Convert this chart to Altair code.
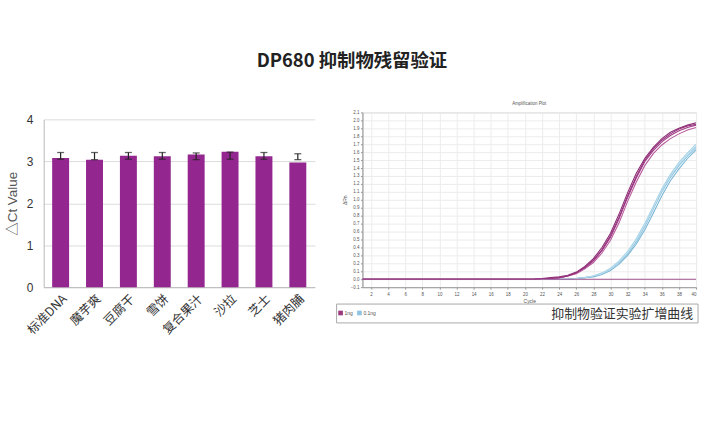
import altair as alt
import pandas as pd

CJK = "Noto Sans CJK SC"
LAT = "Liberation Sans, Noto Sans CJK SC"

title_text = "DP680 抑制物残留验证"

# ---- left panel: delta Ct bars ----
samples = ["标准DNA", "魔芋爽", "豆腐干", "雪饼", "复合果汁", "沙拉", "芝士", "猪肉脯"]
delta_ct = [3.08, 3.04, 3.13, 3.12, 3.16, 3.23, 3.12, 2.97]
err_low = [3.05, 3.04, 3.05, 3.05, 3.04, 3.05, 3.05, 3.04]
err_high = [3.21, 3.21, 3.21, 3.21, 3.20, 3.22, 3.21, 3.18]
bar_ticks = [0, 1, 2, 3, 4]

# ---- right panel: amplification curves ----
cycles = list(range(1, 41))
mag_1 = [0.00, 0.00, 0.00, 0.00, 0.00, 0.00, 0.00, 0.00, 0.00, 0.00,
         0.00, 0.00, 0.00, 0.00, 0.00, 0.00, 0.00, 0.00, 0.00, 0.00,
         0.00, 0.01, 0.01, 0.02, 0.04, 0.08, 0.14, 0.23, 0.36, 0.53,
         0.76, 1.03, 1.27, 1.48, 1.62, 1.73, 1.81, 1.87, 1.91, 1.94]
mag_2 = [0.00, 0.00, 0.00, 0.00, 0.00, 0.00, 0.00, 0.00, 0.00, 0.00,
         0.00, 0.00, 0.00, 0.00, 0.00, 0.00, 0.00, 0.00, 0.00, 0.00,
         0.00, 0.01, 0.02, 0.03, 0.05, 0.09, 0.16, 0.26, 0.40, 0.58,
         0.82, 1.09, 1.33, 1.52, 1.66, 1.77, 1.85, 1.90, 1.94, 1.97]
mag_3 = [0.00, 0.00, 0.00, 0.00, 0.00, 0.00, 0.00, 0.00, 0.00, 0.00,
         0.00, 0.00, 0.00, 0.00, 0.00, 0.00, 0.00, 0.00, 0.00, 0.00,
         0.00, 0.01, 0.01, 0.02, 0.04, 0.07, 0.13, 0.21, 0.33, 0.49,
         0.71, 0.98, 1.22, 1.43, 1.58, 1.69, 1.77, 1.83, 1.88, 1.91]
mag_4 = [0.00, 0.00, 0.00, 0.00, 0.00, 0.00, 0.00, 0.00, 0.00, 0.00,
         0.00, 0.00, 0.00, 0.00, 0.00, 0.00, 0.00, 0.00, 0.00, 0.00,
         0.00, 0.01, 0.01, 0.02, 0.04, 0.08, 0.15, 0.24, 0.37, 0.55,
         0.78, 1.05, 1.29, 1.50, 1.64, 1.75, 1.83, 1.89, 1.93, 1.95]
blu_1 = [0.00, 0.00, 0.00, 0.00, 0.00, 0.00, 0.00, 0.00, 0.00, 0.00,
         0.00, 0.00, 0.00, 0.00, 0.00, 0.00, 0.00, 0.00, 0.00, 0.00,
         0.00, 0.00, 0.00, 0.00, 0.00, 0.01, 0.02, 0.04, 0.07, 0.13,
         0.21, 0.32, 0.47, 0.66, 0.88, 1.10, 1.28, 1.43, 1.55, 1.66]
blu_2 = [0.00, 0.00, 0.00, 0.00, 0.00, 0.00, 0.00, 0.00, 0.00, 0.00,
         0.00, 0.00, 0.00, 0.00, 0.00, 0.00, 0.00, 0.00, 0.00, 0.00,
         0.00, 0.00, 0.00, 0.00, 0.00, 0.01, 0.02, 0.04, 0.08, 0.14,
         0.23, 0.35, 0.51, 0.70, 0.92, 1.14, 1.32, 1.47, 1.59, 1.70]
blu_3 = [0.00, 0.00, 0.00, 0.00, 0.00, 0.00, 0.00, 0.00, 0.00, 0.00,
         0.00, 0.00, 0.00, 0.00, 0.00, 0.00, 0.00, 0.00, 0.00, 0.00,
         0.00, 0.00, 0.00, 0.00, 0.00, 0.01, 0.02, 0.03, 0.06, 0.11,
         0.19, 0.30, 0.44, 0.62, 0.83, 1.05, 1.24, 1.39, 1.52, 1.63]
blu_4 = [0.00, 0.00, 0.00, 0.00, 0.00, 0.00, 0.00, 0.00, 0.00, 0.00,
         0.00, 0.00, 0.00, 0.00, 0.00, 0.00, 0.00, 0.00, 0.00, 0.00,
         0.00, 0.00, 0.00, 0.00, 0.00, 0.01, 0.02, 0.04, 0.07, 0.13,
         0.22, 0.33, 0.49, 0.68, 0.90, 1.12, 1.30, 1.45, 1.57, 1.68]
ntc = [0.00, 0.00, 0.00, 0.00, 0.00, 0.00, 0.00, 0.00, 0.00, 0.00,
       0.00, 0.00, 0.00, 0.00, 0.00, 0.00, 0.00, 0.00, 0.00, 0.00,
       0.00, 0.00, 0.00, 0.00, 0.00, 0.00, 0.00, 0.00, 0.00, 0.00,
       0.00, 0.00, 0.00, 0.00, 0.00, 0.00, 0.00, 0.00, 0.00, 0.00]

x_ticks = [2, 4, 6, 8, 10, 12, 14, 16, 18, 20, 22, 24, 26, 28, 30, 32, 34, 36, 38, 40]
y_ticks = [-0.1, 0.0, 0.1, 0.2, 0.3, 0.4, 0.5, 0.6, 0.7, 0.8, 0.9, 1.0, 1.1,
           1.2, 1.3, 1.4, 1.5, 1.6, 1.7, 1.8, 1.9, 2.0, 2.1]

legend_labels = ["1ng", "0.1ng"]
caption = "抑制物验证实验扩增曲线"

BAR = "#93278f"
rep_names = ["b1", "b2", "b3", "b4", "m1", "m2", "m3", "m4", "ntc"]
rep_series = [blu_1, blu_2, blu_3, blu_4, mag_1, mag_2, mag_3, mag_4, ntc]
rep_colors = ["#8cc4df", "#a7d3e8", "#7ab6d4", "#b5dbec",
              "#a23f86", "#8c2f73", "#b85a9c", "#962f7e", "#a0508c"]
legend_colors = ["#9b3a7e", "#8fc4e0"]

# ---------------- left chart ----------------
bar_df = pd.DataFrame({"sample": samples, "dct": delta_ct, "lo": err_low, "hi": err_high})
base_l = alt.Chart(bar_df)
xb = alt.X("sample:N", sort=samples,
           scale=alt.Scale(paddingInner=0.5, paddingOuter=0.25),
           axis=alt.Axis(title=None, labelAngle=-45, ticks=False, domainColor="#b8b8b8",
                         labelFontSize=12.5, labelFont=CJK, labelColor="#333", labelPadding=5))
yscale = alt.Scale(domain=[0, 4], range=[176, 7], nice=False)


def yb(field):
    return alt.Y(field, scale=yscale, title="△Ct Value",
                 axis=alt.Axis(values=bar_ticks, grid=True, gridColor="#dcdcdc", ticks=False,
                               domainColor="#b8b8b8", labelFontSize=12, labelFont=LAT,
                               labelColor="#333", labelPadding=11, titleFontSize=13.5,
                               titleFont=LAT, titleFontWeight="normal", titleColor="#555",
                               titlePadding=7))


bars = base_l.mark_bar(color=BAR).encode(x=xb, y=yb("dct:Q"))
rules = base_l.mark_rule(color="#222", strokeWidth=1.2).encode(x=xb, y=yb("lo:Q"), y2="hi:Q")
cap_hi = base_l.mark_tick(color="#222", thickness=1.3, size=7).encode(x=xb, y=yb("hi:Q"))
cap_lo = base_l.mark_tick(color="#222", thickness=1.3, size=7).encode(x=xb, y=yb("lo:Q"))
left = alt.layer(bars, rules, cap_hi, cap_lo).properties(
    width=273, height=176, view=alt.ViewBackground(stroke="transparent"))

# ---------------- right chart ----------------
rows = []
for name, series in zip(rep_names, rep_series):
    for c, v in zip(cycles, series):
        rows.append({"cycle": c, "value": v, "rep": name})
line_df = pd.DataFrame(rows)

lines = alt.Chart(line_df).mark_line(strokeWidth=1.1, clip=True).encode(
    x=alt.X("cycle:Q", scale=alt.Scale(domain=[1, 40], nice=False), title="Cycle",
            axis=alt.Axis(values=x_ticks, grid=True, gridColor="#ececec", tickSize=2,
                          tickColor="#999", domainColor="#999", labelFontSize=4.5,
                          labelFont=LAT, labelColor="#555", labelPadding=2,
                          titleFontSize=5, titleFont=LAT, titleFontWeight="normal",
                          titleColor="#555", titlePadding=3)),
    y=alt.Y("value:Q", scale=alt.Scale(domain=[-0.1, 2.1], nice=False), title="ΔRn",
            axis=alt.Axis(values=y_ticks, format=".1f", grid=True, gridColor="#ececec",
                          tickSize=2, tickColor="#999", domainColor="#999", labelFontSize=4.5,
                          labelFont=LAT, labelColor="#555", labelPadding=1.5,
                          titleFontSize=5, titleFont=LAT, titleFontWeight="normal",
                          titleColor="#555", titlePadding=3)),
    color=alt.Color("rep:N", scale=alt.Scale(domain=rep_names, range=rep_colors), legend=None),
    order=alt.Order("cycle:Q"),
)

cap_df = pd.DataFrame({"caption": [caption]})
box = alt.Chart(cap_df).mark_rect(fill="white", stroke="#a8a8a8", strokeWidth=1).encode(
    x=alt.value(-26), x2=alt.value(338), y=alt.value(193), y2=alt.value(212))
cap_text = alt.Chart(cap_df).mark_text(align="right", baseline="middle", fontSize=13,
                                       font=CJK, color="#333").encode(
    x=alt.value(333), y=alt.value(203), text="caption:N")

legend_layers = []
legend_x = [-22, -3]
for lab, col, lx in zip(legend_labels, legend_colors, legend_x):
    ldf = pd.DataFrame({"label": [lab]})
    legend_layers.append(alt.Chart(ldf).mark_square(size=22, color=col, opacity=1).encode(
        x=alt.value(lx), y=alt.value(202)))
    legend_layers.append(alt.Chart(ldf).mark_text(align="left", baseline="middle", fontSize=5,
                                                  font=LAT, color="#555").encode(
        x=alt.value(lx + 4), y=alt.value(202), text="label:N"))

right = alt.layer(box, lines, cap_text, *legend_layers).properties(
    width=336, height=176,
    title=alt.TitleParams("Amplification Plot", fontSize=4.5, fontWeight="normal",
                          font=LAT, color="#555", offset=4),
    view=alt.ViewBackground(stroke="#cfcfcf"))

chart = alt.hconcat(left, right, spacing=48, bounds="flush").properties(
    title=alt.TitleParams(title_text, fontSize=18.5, font=CJK, fontWeight="bold",
                          anchor="middle", color="#222", offset=30),
    padding={"left": 4, "top": 51, "right": 5, "bottom": 5},
)

chart.save("out.html", embed_options={"renderer": "svg", "actions": False})
